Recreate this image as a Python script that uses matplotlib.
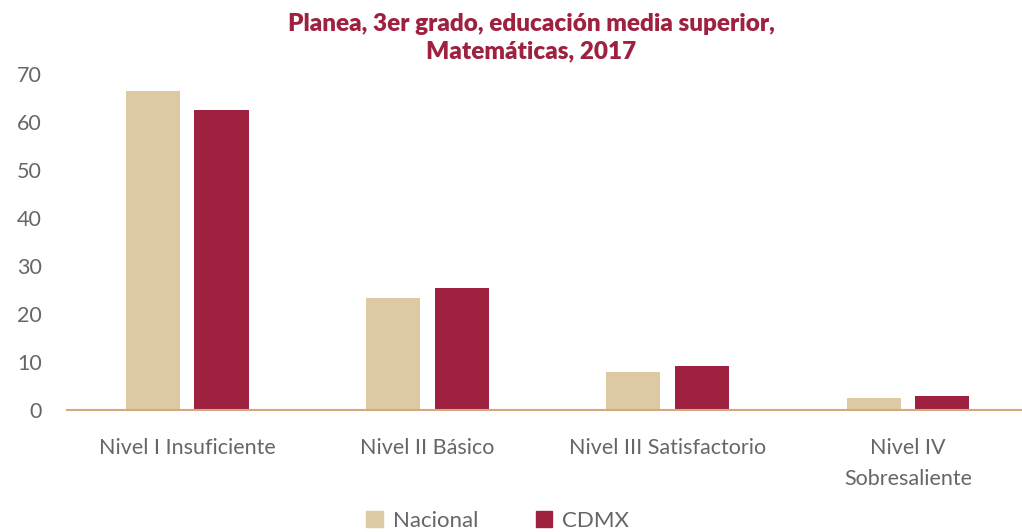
import numpy as np
import matplotlib
matplotlib.use('Agg')
import matplotlib.pyplot as plt
from matplotlib.patches import Patch

# Data
categories = ['Nivel I Insuficiente', 'Nivel II Básico', 'Nivel III Satisfactorio', 'Nivel IV\nSobresaliente']
nacional = [66.4, 23.3, 8.0, 2.5]
cdmx = [62.6, 25.4, 9.2, 3.0]
series_names = ['Nacional', 'CDMX']

color_nac = '#DDC9A3'
color_cdmx = '#9E2140'
text_gray = '#666666'

plt.rcParams['font.family'] = ['Lato', 'DejaVu Sans']

fig = plt.figure(figsize=(10.22, 5.32), dpi=100)
ax = fig.add_axes([0.0656, 0.2284, 0.9344, 0.6326])

x = np.arange(len(categories))
width = 0.225
offset = 0.143
ax.bar(x - offset, nacional, width, color=color_nac)
ax.bar(x + offset, cdmx, width, color=color_cdmx)

ax.set_xlim(-0.5, 3.475)
ax.set_ylim(0, 70)
ax.set_yticks(range(0, 71, 10))
ax.set_xticks(x)
ax.set_xticklabels(categories, linespacing=1.7)

for side in ['top', 'right', 'left']:
    ax.spines[side].set_visible(False)
ax.spines['bottom'].set_color('#D4A97E')
ax.spines['bottom'].set_linewidth(1.5)

ax.tick_params(axis='y', length=0, pad=18, labelsize=15.5, labelcolor=text_gray)
ax.tick_params(axis='x', length=0, pad=20, labelsize=15.5, labelcolor=text_gray)

fig.suptitle('Planea, 3er grado, educación media superior,\nMatemáticas, 2017',
             x=0.52, y=0.975, fontsize=17.5, fontweight='heavy', color=color_cdmx,
             linespacing=1.3)

handles = [Patch(color=color_nac), Patch(color=color_cdmx)]
leg = fig.legend(handles, series_names, loc='lower center', bbox_to_anchor=(0.487, -0.035),
                 ncol=2, frameon=False, fontsize=16, handlelength=0.75, handleheight=0.75,
                 handletextpad=0.45, columnspacing=2.6)
for t in leg.get_texts():
    t.set_color(text_gray)

fig.savefig('out.png', dpi=100)
